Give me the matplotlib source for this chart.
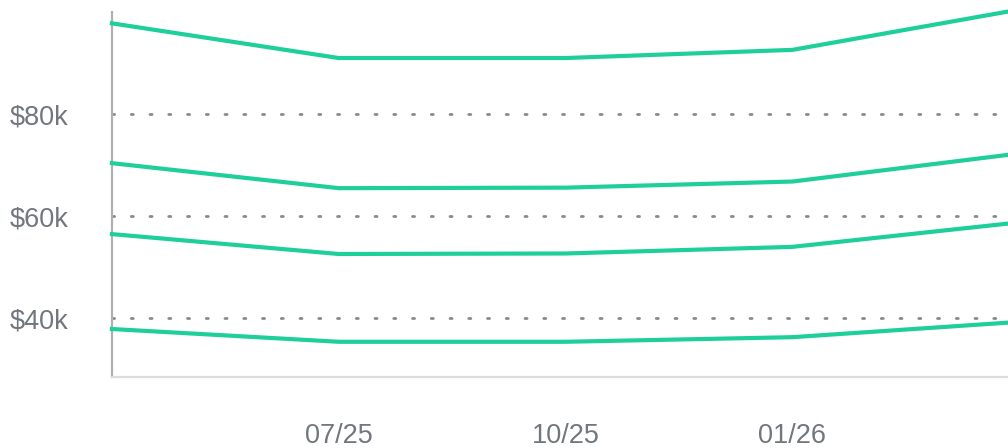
import numpy as np
import matplotlib.pyplot as plt
from matplotlib.ticker import FuncFormatter

# x positions are monthly quarters; first/last are unlabeled
xlabels=['','07/25','10/25','01/26','']
# series values in $k (top to bottom)
s1=[97.8,91.0,91.0,92.6,100.5]
s2=[70.4,65.5,65.6,66.8,72.3]
s3=[56.5,52.6,52.7,54.0,58.8]
s4=[37.9,35.4,35.4,36.3,39.3]
yticks=[40,60,80]

lcol='#1ecf9c'
tcol='#72777d'

plt.rcParams['font.family']=['Liberation Sans','DejaVu Sans']

fig=plt.figure(figsize=(10.08,4.48),dpi=100)
ax=fig.add_axes([0.111,0.1585,0.889,0.8145])

x=np.arange(len(xlabels))
for s in [s1,s2,s3,s4]:
    ax.plot(x,s,color=lcol,lw=3.0,solid_joinstyle='round',clip_on=False,zorder=3)

for yt in yticks:
    ax.axhline(yt,color='#8a8a8a',lw=2.0,dashes=(0.75,6.0),dash_capstyle='round',zorder=1)

ax.set_xlim(0,3.95)
ax.set_ylim(28.5,100)
ax.set_xticks(x[1:4])
ax.set_xticklabels(xlabels[1:4])
ax.set_yticks(yticks)
ax.yaxis.set_major_formatter(FuncFormatter(lambda v,p:'$%dk'%v))
ax.tick_params(axis='both',length=0,labelsize=19.5,labelcolor=tcol)
ax.tick_params(axis='x',pad=33)
ax.tick_params(axis='y',pad=31)

for sp in ['top','right']:
    ax.spines[sp].set_visible(False)
ax.spines['left'].set_color('#b0b0b0')
ax.spines['left'].set_linewidth(1.6)
ax.spines['bottom'].set_color('#dcdcdc')
ax.spines['bottom'].set_linewidth(1.6)

fig.savefig('out.png',dpi=100)
